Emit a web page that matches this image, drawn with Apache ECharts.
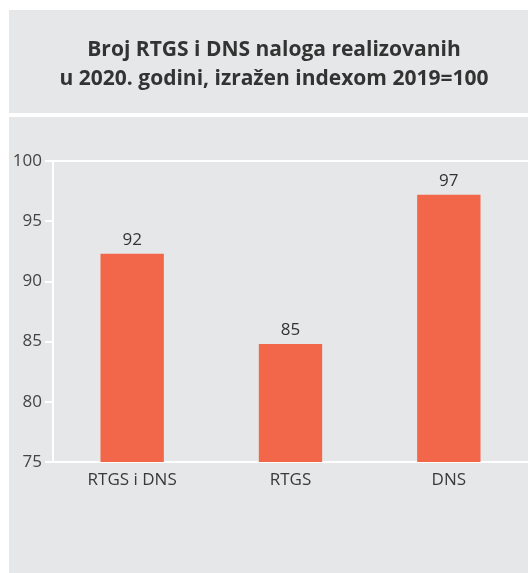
<!DOCTYPE html>
<html>
<head>
<meta charset="utf-8">
<script src="https://cdn.jsdelivr.net/npm/echarts@6/dist/echarts.min.js"></script>
<style>
  html, body { margin: 0; padding: 0; background: #fff; }
  #main { width: 528px; height: 573px; }
</style>
</head>
<body>
<div id="main"></div>
<script>
var categories = ['RTGS i DNS', 'RTGS', 'DNS'];
var indexValues = [92.3, 84.8, 97.2];
var yTicks = [75, 80, 85, 90, 95, 100];

var chart = echarts.init(document.getElementById('main'));
var font = '"Open Sans", "Noto Sans", sans-serif';

var option = {
  backgroundColor: '#fff',
  animation: false,
  graphic: [
    { type: 'rect', z: -10, shape: { x: 9, y: 10, width: 519, height: 103 }, style: { fill: '#e6e7e8' } },
    { type: 'rect', z: -10, shape: { x: 9, y: 117, width: 519, height: 456 }, style: { fill: '#e6e7e8' } }
  ],
  title: {
    text: 'Broj RTGS i DNS naloga realizovanih\nu 2020. godini, izražen indexom 2019=100',
    left: 269,
    textAlign: 'center',
    top: 31,
    textStyle: {
      fontFamily: font,
      fontSize: 21,
      fontWeight: 'bold',
      color: '#333',
      lineHeight: 29
    }
  },
  grid: {
    left: 53,
    right: 0,
    top: 161,
    bottom: 111,
    containLabel: false
  },
  xAxis: {
    type: 'category',
    data: categories,
    axisLine: { lineStyle: { color: '#fff', width: 2 } },
    axisTick: { show: false },
    axisLabel: { color: '#3a3a3a', fontSize: 17, fontFamily: font, margin: 10 }
  },
  yAxis: {
    type: 'value',
    min: yTicks[0],
    max: yTicks[yTicks.length - 1],
    interval: 5,
    axisLine: { show: true, lineStyle: { color: '#fff', width: 2 } },
    axisTick: { show: true, length: 8, lineStyle: { color: '#fff', width: 2 } },
    splitLine: { show: false },
    axisLabel: { color: '#444', fontSize: 17, fontFamily: font, margin: 11 }
  },
  series: [
    {
      type: 'bar',
      data: indexValues,
      barWidth: '40%',
      itemStyle: { color: '#f26649' },
      label: {
        show: true,
        position: 'top',
        distance: 5,
        color: '#333',
        fontSize: 17,
        fontFamily: font,
        formatter: function (p) { return Math.round(p.value); }
      },
      markLine: {
        silent: true,
        symbol: 'none',
        label: { show: false },
        lineStyle: { color: '#fff', width: 2, type: 'solid' },
        data: [{ yAxis: yTicks[yTicks.length - 1] }]
      }
    }
  ]
};

chart.setOption(option);
</script>
</body>
</html>
